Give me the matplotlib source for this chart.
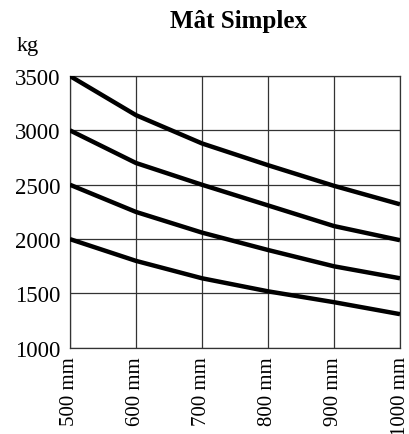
import matplotlib
matplotlib.use("Agg")
import matplotlib.pyplot as plt

widths = [500, 600, 700, 800, 900, 1000]
tick_labels = ["500 mm", "600 mm", "700 mm", "800 mm", "900 mm", "1000 mm"]
load_a = [3500, 3140, 2880, 2680, 2490, 2320]
load_b = [3000, 2700, 2500, 2310, 2120, 1990]
load_c = [2500, 2250, 2060, 1900, 1750, 1640]
load_d = [2000, 1800, 1640, 1520, 1420, 1310]

plt.rcParams['font.family'] = ['Liberation Serif', 'DejaVu Serif']

fig = plt.figure(figsize=(4.09, 4.35), dpi=100)
ax = fig.add_axes([0.171, 0.198, 0.807, 0.625])

for s in [load_a, load_b, load_c, load_d]:
    ax.plot(widths, s, color="black", lw=3.2, solid_capstyle="butt", zorder=3)

ax.set_xlim(500, 1000)
ax.set_ylim(1000, 3500)
ax.set_xticks(widths)
ax.set_xticklabels(tick_labels, rotation=90, fontsize=15)
ax.set_yticks([1000, 1500, 2000, 2500, 3000, 3500])
ax.tick_params(axis="y", labelsize=16.5, length=0, pad=7)
ax.tick_params(axis="x", length=0, pad=6)
ax.grid(True, color="#333333", lw=0.9)
for sp in ax.spines.values():
    sp.set_color("#333333")
    sp.set_linewidth(0.9)

fig.text(0.582, 0.95, "Mât Simplex", ha="center", va="center", fontsize=18, fontweight="bold")
fig.text(0.068, 0.892, "kg", ha="center", va="center", fontsize=16)

fig.savefig("out.png", dpi=100)
